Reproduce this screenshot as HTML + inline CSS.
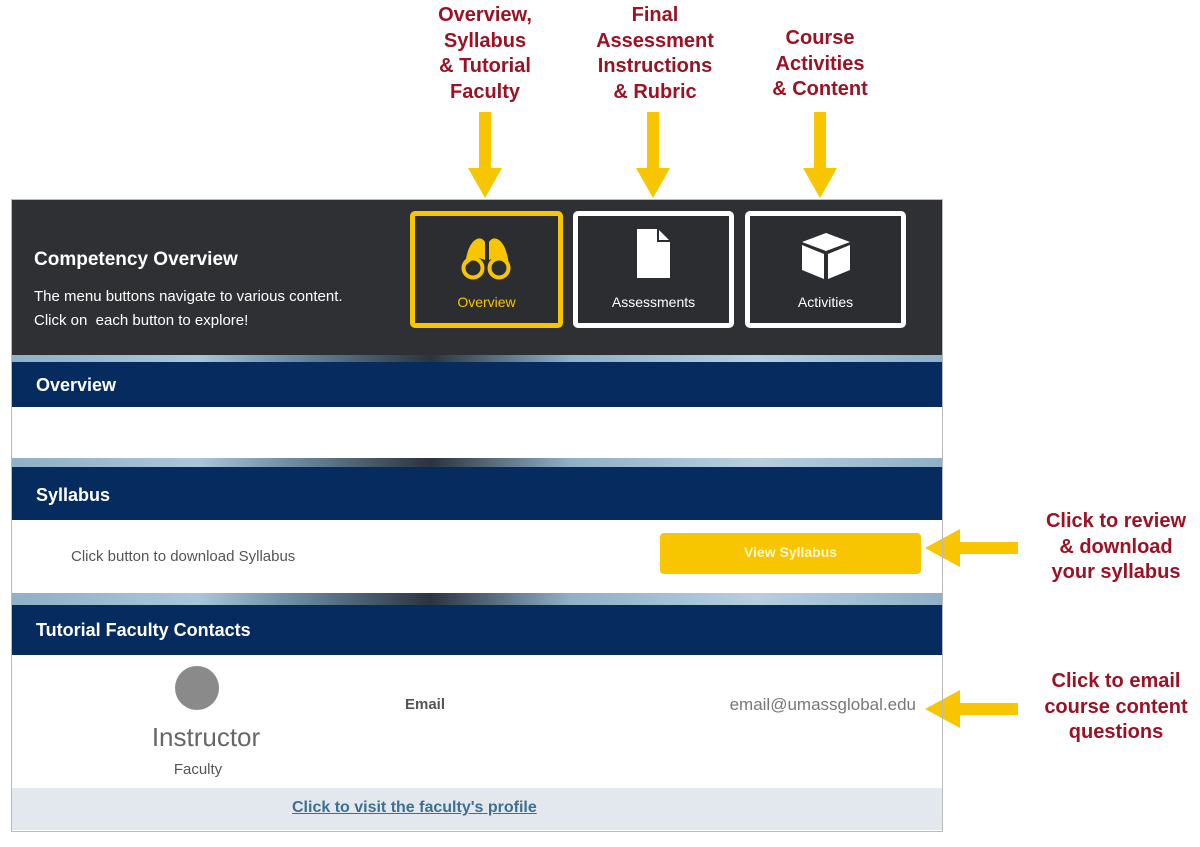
<!DOCTYPE html>
<html><head><meta charset="utf-8"><style>
body{margin:0;width:1200px;height:847px;background:#fff;position:relative;overflow:hidden;font-family:"Liberation Sans",sans-serif}
.a{position:absolute}
.lbl{position:absolute;color:#9b1224;font-weight:bold;font-size:20px;text-align:center;line-height:25.5px}
.bar{position:absolute;left:12px;width:930px;background:#062b5e;color:#fff;font-weight:bold;font-size:18px;box-sizing:border-box;padding-left:24px}
.strip{position:absolute;left:12px;width:930px;background:linear-gradient(90deg,#8fb0c8,#a9c6db 20%,#6d8ca3 30%,#2a3440 45%,#8fb0c8 60%,#b6cfe0 80%,#8fb0c8)}
.btn{position:absolute;top:211px;height:117px;box-sizing:border-box;border:5px solid #fff;border-radius:5px;background:#2b2d30;color:#fff;font-size:14px;text-align:center}
.btn span{position:absolute;left:0;right:0;top:78px}
</style></head><body>
<div class="lbl" style="left:405px;top:3px;width:160px">Overview,<br>Syllabus<br>&amp; Tutorial<br>Faculty</div>
<div class="lbl" style="left:575px;top:3px;width:160px">Final<br>Assessment<br>Instructions<br>&amp; Rubric</div>
<div class="lbl" style="left:740px;top:26px;width:160px">Course<br>Activities<br>&amp; Content</div>
<div class="lbl" style="left:1030px;top:509px;width:172px">Click to review<br>&amp; download<br>your syllabus</div>
<div class="lbl" style="left:1030px;top:669px;width:172px">Click to email<br>course content<br>questions</div>
<svg class="a" style="left:0;top:0" width="1200" height="847">
<g fill="#f7c600">
<rect x="479" y="112" width="12" height="58"/><polygon points="468,168 502,168 485,198"/>
<rect x="647" y="112" width="12" height="58"/><polygon points="636,168 670,168 653,198"/>
<rect x="814" y="112" width="12" height="58"/><polygon points="803,168 837,168 820,198"/>
<rect x="958" y="542" width="60" height="12"/><polygon points="960,529 960,567 925,548"/>
<rect x="958" y="703" width="60" height="12"/><polygon points="960,690 960,728 925,709"/>
</g></svg>
<div class="a" style="left:11px;top:199px;width:932px;height:633px;border:1px solid #bbb;box-sizing:border-box"></div>
<div class="a" style="left:12px;top:200px;width:930px;height:155px;background:#2e3033"></div>
<div class="a" style="left:34px;top:249px;color:#fff;font-weight:bold;font-size:19px">Competency Overview</div>
<div class="a" style="left:34px;top:285px;color:#fff;font-size:15px;line-height:24px">The menu buttons navigate to various content.<br>Click on &nbsp;each button to explore!</div>
<div class="btn" style="left:410px;width:153px;border-color:#f7c600;color:#f7c600"><svg class="a" style="left:46px;top:20px" width="52" height="46"><g fill="none" stroke="#f7c600" stroke-width="4"><circle cx="12" cy="32" r="9.5"/><circle cx="38" cy="32" r="9.5"/></g><path d="M4 30 Q6 10 14 4 Q20 0 24 6 L24 24 L18 22 Q12 22 4 30 Z M48 30 Q46 10 38 4 Q32 0 28 6 L28 24 L34 22 Q40 22 48 30 Z" fill="#f7c600"/></svg><span>Overview</span></div>
<div class="btn" style="left:573px;width:161px"><svg class="a" style="left:58px;top:12px" width="36" height="52"><path d="M1 1 H22 L34 13 V50 H1 Z" fill="#fff"/><path d="M22 1 V13 H34" fill="none" stroke="#2b2d30" stroke-width="2"/></svg><span>Assessments</span></div>
<div class="btn" style="left:745px;width:161px"><svg class="a" style="left:50px;top:15px" width="52" height="50"><polygon points="26,2 50,11 26,20 2,11" fill="#fff"/><polygon points="2,14 24,23 24,48 2,39" fill="#fff"/><polygon points="28,23 50,14 50,39 28,48" fill="#fff"/></svg><span>Activities</span></div>
<div class="strip" style="top:355px;height:7px"></div>
<div class="bar" style="top:362px;height:45px;line-height:47px">Overview</div>
<div class="strip" style="top:458px;height:9px"></div>
<div class="bar" style="top:467px;height:53px;line-height:56px">Syllabus</div>
<div class="a" style="left:71px;top:548px;color:#555;font-size:15px">Click button to download Syllabus</div>
<div class="a" style="left:660px;top:533px;width:261px;height:41px;background:#f7c600;border-radius:4px;color:#fff7cc;font-weight:bold;font-size:14px;text-align:center;line-height:38px">View Syllabus</div>
<div class="strip" style="top:593px;height:12px"></div>
<div class="bar" style="top:605px;height:50px;line-height:51px">Tutorial Faculty Contacts</div>
<div class="a" style="left:175px;top:666px;width:44px;height:44px;border-radius:50%;background:#8a8a8a"></div>
<div class="a" style="left:108px;top:722px;width:196px;text-align:center;color:#666;font-size:26px">Instructor</div>
<div class="a" style="left:108px;top:761px;width:180px;text-align:center;color:#555;font-size:15px">Faculty</div>
<div class="a" style="left:405px;top:696px;color:#555;font-size:15px;font-weight:bold">Email</div>
<div class="a" style="left:600px;width:316px;text-align:right;top:695px;color:#777;font-size:17px">email@umassglobal.edu</div>
<div class="a" style="left:12px;top:788px;width:930px;height:42px;background:#e2e8ee"></div>
<div class="a" style="left:292px;top:799px;color:#3f6f8f;font-size:16px;font-weight:bold;text-decoration:underline">Click to visit the faculty's profile</div>
</body></html>
